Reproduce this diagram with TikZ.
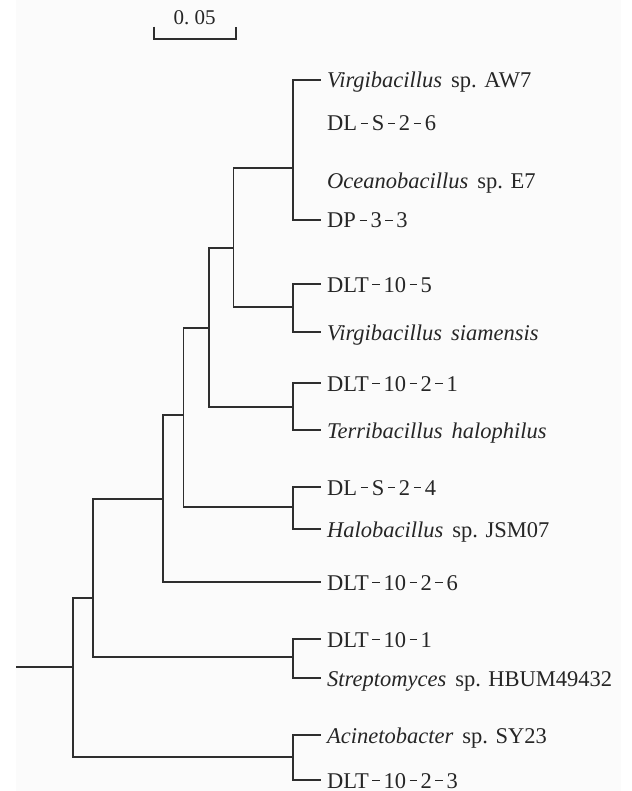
\documentclass[tikz,border=0pt]{standalone}
\usepackage{fontspec}
\setmainfont{Liberation Serif}
\newcommand{\hy}{\hspace{0.16em}\rule[0.29em]{0.33em}{0.06em}\hspace{0.16em}}
\newcommand{\gen}[1]{\textit{#1}\hspace{0.4em}}
\begin{document}
\begin{tikzpicture}[x=1pt,y=-1pt,
  branch/.style={draw=black!82,line width=1.8pt,line join=miter},
  leaf/.style={anchor=base west,inner xsep=6pt,inner ysep=0pt,yshift=-8pt,text=black!85,font=\fontsize{22.5}{26}\selectfont},
  sclab/.style={anchor=base,inner sep=0pt,text=black!85,font=\fontsize{21}{24}\selectfont}]
\useasboundingbox (0,0) rectangle (631,791);
\fill[black!1.5] (16,0) rectangle (621,791);
% internal nodes
\coordinate (root) at (73,667);
\coordinate (stub) at (16,667);
\coordinate (nI) at (93,598);
\coordinate (nH) at (163,499);
\coordinate (nF) at (183.5,415);
\coordinate (nD) at (209,328);
\coordinate (nC) at (233.5,248);
\coordinate (nA) at (293,168);
\coordinate (nB) at (293,307);
\coordinate (nE) at (293,407);
\coordinate (nG) at (293,507);
\coordinate (nJ) at (293,657);
\coordinate (nK) at (293,757);
% leaves
\coordinate (l1) at (321,80);
\coordinate (l2) at (321,122.7);
\coordinate (l3) at (321,181);
\coordinate (l4) at (321,220);
\coordinate (l5) at (321,284);
\coordinate (l6) at (321,332);
\coordinate (l7) at (321,383);
\coordinate (l8) at (321,430);
\coordinate (l9) at (321,487);
\coordinate (l10) at (321,529);
\coordinate (l11) at (321,582);
\coordinate (l12) at (321,639);
\coordinate (l13) at (321,678);
\coordinate (l14) at (321,735);
\coordinate (l15) at (321,780);
\node[leaf] (t1) at (l1) {\gen{Virgibacillus}sp. AW7};
\node[leaf] (t2) at (l2) {DL\hy S\hy 2\hy 6};
\node[leaf] (t3) at (l3) {\gen{Oceanobacillus}sp. E7};
\node[leaf] (t4) at (l4) {DP\hy 3\hy 3};
\node[leaf] (t5) at (l5) {DLT\hy 10\hy 5};
\node[leaf] (t6) at (l6) {\textit{Virgibacillus\hspace{0.4em}siamensis}};
\node[leaf] (t7) at (l7) {DLT\hy 10\hy 2\hy 1};
\node[leaf] (t8) at (l8) {\textit{Terribacillus\hspace{0.4em}halophilus}};
\node[leaf] (t9) at (l9) {DL\hy S\hy 2\hy 4};
\node[leaf] (t10) at (l10) {\gen{Halobacillus}sp. JSM07};
\node[leaf] (t11) at (l11) {DLT\hy 10\hy 2\hy 6};
\node[leaf] (t12) at (l12) {DLT\hy 10\hy 1};
\node[leaf] (t13) at (l13) {\gen{Streptomyces}sp. HBUM49432};
\node[leaf] (t14) at (l14) {\gen{Acinetobacter}sp. SY23};
\node[leaf] (t15) at (l15) {DLT\hy 10\hy 2\hy 3};
% branches
\draw[branch] (stub) -- (root);
\draw[branch] (root) |- (nI);
\draw[branch] (root) |- (nK);
\draw[branch] (nI) |- (nH);
\draw[branch] (nI) |- (nJ);
\draw[branch] (nH) |- (nF);
\draw[branch] (nH) |- (l11);
\draw[branch] (nF) |- (nD);
\draw[branch] (nF) |- (nG);
\draw[branch] (nD) |- (nC);
\draw[branch] (nD) |- (nE);
\draw[branch] (nC) |- (nA);
\draw[branch] (nC) |- (nB);
\draw[branch] (nA) |- (l1);
\draw[branch] (nA) |- (l4);
\draw[branch] (nB) |- (l5);
\draw[branch] (nB) |- (l6);
\draw[branch] (nE) |- (l7);
\draw[branch] (nE) |- (l8);
\draw[branch] (nG) |- (l9);
\draw[branch] (nG) |- (l10);
\draw[branch] (nJ) |- (l12);
\draw[branch] (nJ) |- (l13);
\draw[branch] (nK) |- (l14);
\draw[branch] (nK) |- (l15);
% scale bar
\coordinate (sb1) at (154.3,26.7);
\coordinate (sb2) at (154.3,39.3);
\coordinate (sb3) at (236,39.3);
\coordinate (sb4) at (236,26.7);
\draw[branch] (sb1) -- (sb2) -- (sb3) -- (sb4);
\node[sclab] (sbl) at (194.5,24.3) {0.\hspace{0.25em}05};
\end{tikzpicture}
\end{document}
